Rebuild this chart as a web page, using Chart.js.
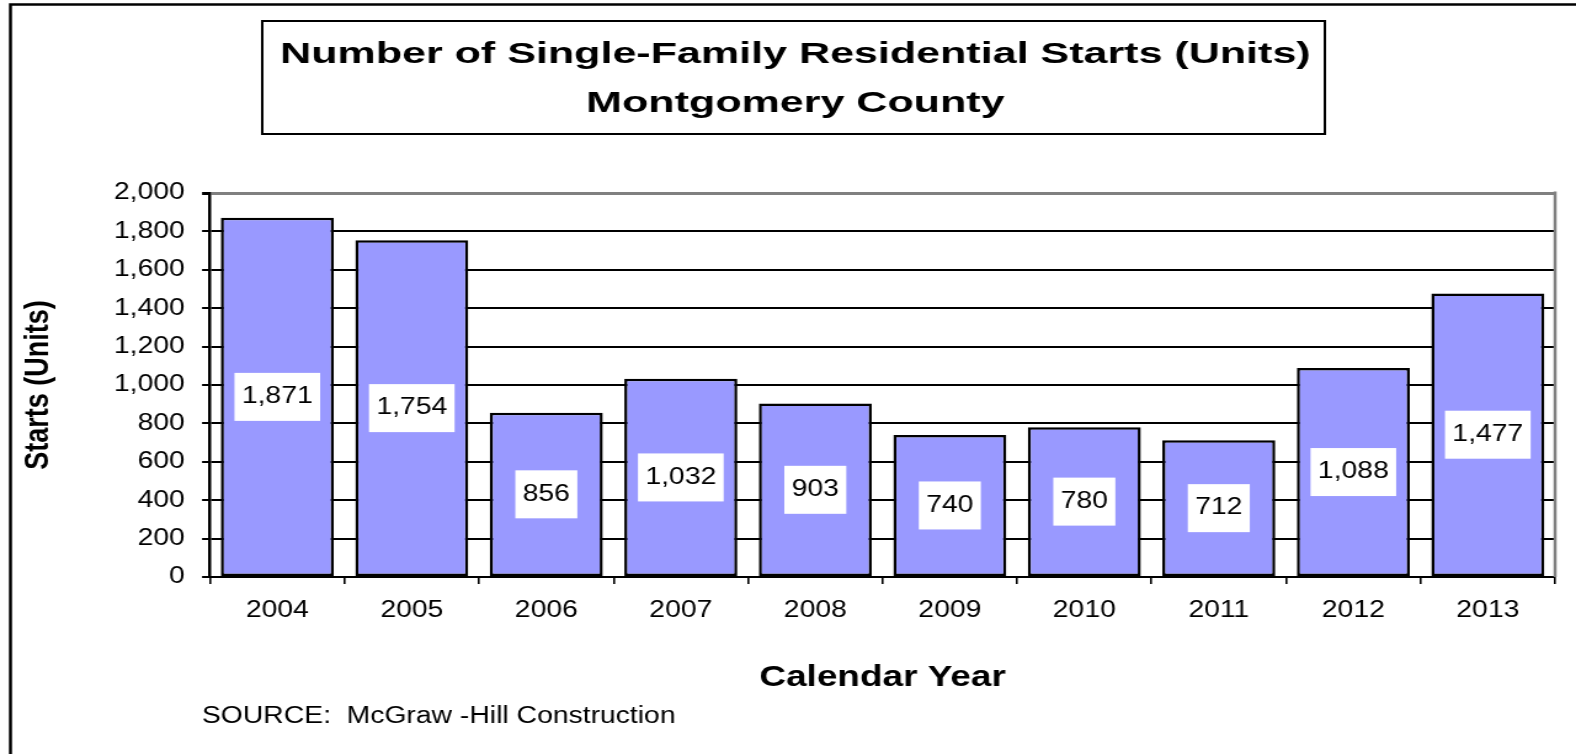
<!DOCTYPE html>
<html>
<head>
<meta charset="utf-8">
<script src="https://cdn.jsdelivr.net/npm/chart.js@4"></script>
<style>
  html, body { margin: 0; padding: 0; background: #fff; overflow: hidden; }
  /* the original picture is stretched sideways, so the canvas is too */
  #chart { display: block; width: 1576px !important; height: 754px !important; }
</style>
</head>
<body>
<canvas id="chart" width="1280" height="754" style="width:1576px;height:754px"></canvas>
<script>
// Chart data
const years = ['2004', '2005', '2006', '2007', '2008', '2009', '2010', '2011', '2012', '2013'];
const starts = [1871, 1754, 856, 1032, 903, 740, 780, 712, 1088, 1477];
const yTicks = [0, 200, 400, 600, 800, 1000, 1200, 1400, 1600, 1800, 2000];
const yTickLabels = ['0', '200', '400', '600', '800', '1,000', '1,200', '1,400', '1,600', '1,800', '2,000'];

const titleLines = ['Number of Single-Family Residential Starts (Units)', 'Montgomery County'];
const yTitle = 'Starts (Units)';
const xTitle = 'Calendar Year';
const sourceText = 'SOURCE:  McGraw -Hill Construction';

const FONT = "'Liberation Sans', Arial, sans-serif";

function formatNum(n) {
    return n.toString().replace(/\B(?=(\d{3})+(?!\d))/g, ',');
}

// Frame, title box and source line
const decorPlugin = {
    id: 'decor',
    beforeDraw(chart) {
        const ctx = chart.ctx;
        ctx.save();
        ctx.fillStyle = '#fff';
        ctx.fillRect(0, 0, chart.width, chart.height);

        // outer frame runs off the right and bottom edges
        ctx.strokeStyle = '#000';
        ctx.lineWidth = 2.5;
        ctx.strokeRect(8.5, 4.5, chart.width + 20, chart.height + 20);

        // title box
        ctx.lineWidth = 2;
        ctx.strokeRect(213, 21, 863, 113);
        ctx.fillStyle = '#000';
        ctx.font = 'bold 30px ' + FONT;
        ctx.textAlign = 'center';
        ctx.textBaseline = 'alphabetic';
        // title text is wider in the original, stretch it a bit more
        ctx.save();
        ctx.translate(646, 0);
        ctx.scale(1.165, 1);
        ctx.fillText(titleLines[0], 0, 63);
        ctx.fillText(titleLines[1], 0, 112);
        ctx.restore();

        // source
        ctx.font = '23px ' + FONT;
        ctx.textAlign = 'left';
        ctx.fillText(sourceText, 164, 723);
        ctx.restore();
    },
    afterDatasetsDraw(chart) {
        const ctx = chart.ctx;
        const area = chart.chartArea;
        ctx.save();
        // gray right edge of the plot area
        ctx.strokeStyle = '#808080';
        ctx.lineWidth = 2.5;
        ctx.beginPath();
        ctx.moveTo(area.right, area.top - 1.5);
        ctx.lineTo(area.right, area.bottom);
        ctx.stroke();

        // value labels in white boxes at the middle of each bar
        ctx.font = '23px ' + FONT;
        ctx.textAlign = 'center';
        ctx.textBaseline = 'middle';
        const meta = chart.getDatasetMeta(0);
        meta.data.forEach((bar, i) => {
            const text = formatNum(starts[i]);
            const w = ctx.measureText(text).width + 12;
            const h = 48;
            const cy = (bar.y + bar.base) / 2;
            ctx.fillStyle = '#fff';
            ctx.fillRect(bar.x - w / 2, cy - h / 2, w, h);
            ctx.fillStyle = '#000';
            ctx.fillText(text, bar.x, cy);
        });
        ctx.restore();
    }
};

new Chart(document.getElementById('chart'), {
    type: 'bar',
    data: {
        labels: years,
        datasets: [{
            data: starts,
            backgroundColor: '#9999ff',
            borderColor: '#000',
            borderWidth: 2.5,
            borderSkipped: false,
            barPercentage: 0.84,
            categoryPercentage: 1
        }]
    },
    options: {
        responsive: false,
        animation: false,
        devicePixelRatio: 1,
        layout: { padding: { top: 193, right: 17, bottom: 0, left: 0 } },
        plugins: {
            legend: { display: false },
            tooltip: { enabled: false },
            title: { display: false }
        },
        scales: {
            x: {
                afterFit: s => { s.height = 177; },
                grid: {
                    display: true,
                    drawOnChartArea: false,
                    drawTicks: true,
                    tickLength: 7,
                    color: '#000',
                    lineWidth: 1.6
                },
                border: { display: true, color: '#000', width: 2 },
                ticks: {
                    color: '#000',
                    font: { family: FONT, size: 23 },
                    padding: 13,
                    maxRotation: 0,
                    autoSkip: false
                },
                title: {
                    display: true,
                    text: xTitle,
                    color: '#000',
                    font: { family: FONT, size: 30, weight: 'bold' },
                    padding: { top: 0, bottom: 58 }
                }
            },
            y: {
                min: 0,
                max: 2000,
                afterFit: s => { s.width = 170.6; },
                afterBuildTicks: s => { s.ticks = yTicks.map(v => ({ value: v })); },
                grid: {
                    color: c => (c.tick && c.tick.value === 2000) ? '#808080' : '#000',
                    lineWidth: c => (c.tick && c.tick.value === 2000) ? 3 : 2,
                    tickColor: '#000',
                    tickLength: 6.5
                },
                border: { display: true, color: '#000', width: 2.5 },
                ticks: {
                    color: '#000',
                    font: { family: FONT, size: 23 },
                    padding: 14,
                    callback: v => yTickLabels[yTicks.indexOf(v)]
                },
                title: {
                    display: true,
                    text: yTitle,
                    color: '#000',
                    font: { family: FONT, size: 27, weight: 'bold' },
                    padding: { top: 15, bottom: 0 }
                }
            }
        }
    },
    plugins: [decorPlugin]
});
</script>
</body>
</html>
